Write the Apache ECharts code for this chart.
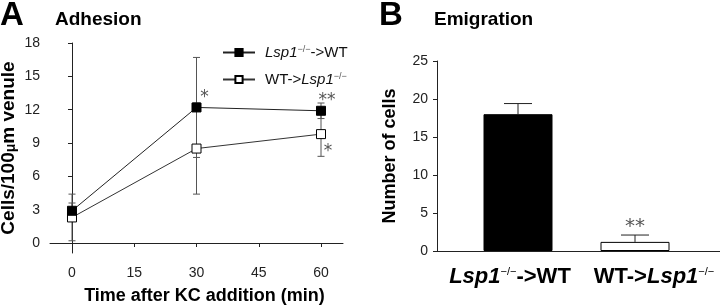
<!DOCTYPE html>
<html>
<head>
<meta charset="utf-8">
<script src="https://cdn.jsdelivr.net/npm/echarts@6/dist/echarts.min.js"></script>
<style>html,body{margin:0;padding:0;background:#fff}#c{width:720px;height:305px}</style>
</head>
<body>
<div id="c"></div>
<script>
// ---- Panel A data ----
const timePoints = [0, 30, 60];
const xTicks = [0, 15, 30, 45, 60];
const yTicksA = [0, 3, 6, 9, 12, 15, 18];
const lspToWT = [2.9, 12.2, 11.9];
const lspToWTErr = [0.7, 4.5, 0.7];
const lspToWTSig = ['', '*', '**'];
const wtToLsp = [2.3, 8.5, 9.8];
const wtToLspErr = [2.1, 4.1, 2.0];
const wtToLspSig = ['', '', '*'];
// ---- Panel B data ----
const groupsB = ['Lsp1->WT', 'WT->Lsp1'];
const emigration = [18.0, 1.2];
const emigrationErr = [1.4, 0.9];
const emigrationSig = ['', '**'];

const FONT = 'Liberation Sans, Arial, sans-serif';
const chart = echarts.init(document.getElementById('c'), null, {renderer: 'canvas'});

function errRender(color, capHalf, both) {
  return function (params, api) {
    const x = api.value(0), y = api.value(1), e = api.value(2);
    const top = api.coord([x, y + e]);
    const bot = both ? api.coord([x, y - e]) : api.coord([x, y]);
    const st = {stroke: color, lineWidth: 1};
    const ch = [
      {type: 'line', shape: {x1: top[0], y1: top[1], x2: bot[0], y2: bot[1]}, style: st},
      {type: 'line', shape: {x1: top[0] - capHalf, y1: top[1], x2: top[0] + capHalf, y2: top[1]}, style: st}
    ];
    if (both) ch.push({type: 'line', shape: {x1: bot[0] - capHalf, y1: bot[1], x2: bot[0] + capHalf, y2: bot[1]}, style: st});
    return {type: 'group', children: ch};
  };
}

function sigLabel(sig, offset) {
  return sig ? {show: true, position: 'inside', offset: offset, formatter: sig,
    fontFamily: 'DejaVu Sans', fontSize: 17, color: '#555'} : {show: false};
}

const sigOffsetsLsp = [[0, 0], [8, -10], [6, -10]];
const sigOffsetsWt = [[0, 0], [0, 0], [7, 17]];

const supStyle = {fontSize: 9, color: '#555', verticalAlign: 'top', padding: [0, 0, 6, 0], fontFamily: FONT};

const option = {
  animation: false,
  backgroundColor: '#fff',
  textStyle: {fontFamily: FONT},
  title: [
    {text: 'A', left: 0, top: -1, padding: 0, textStyle: {fontSize: 33, fontWeight: 'bold', color: '#000', fontFamily: FONT}},
    {text: 'Adhesion', left: 55, top: 10, padding: 0, textStyle: {fontSize: 19, fontWeight: 'bold', color: '#000', fontFamily: FONT}},
    {text: 'B', left: 379, top: -1, padding: 0, textStyle: {fontSize: 33, fontWeight: 'bold', color: '#000', fontFamily: FONT}},
    {text: 'Emigration', left: 434, top: 10, padding: 0, textStyle: {fontSize: 19, fontWeight: 'bold', color: '#000', fontFamily: FONT}}
  ],
  legend: {
    left: 222, top: 45, orient: 'vertical', itemWidth: 32, itemHeight: 9, itemGap: 12, padding: 0,
    data: ['Lsp1->WT', 'WT->Lsp1'],
    formatter: function (n) {
      return n === 'Lsp1->WT' ? '{it|Lsp1}{sup|−/−}{n|->WT}' : '{n|WT->}{it|Lsp1}{sup|−/−}';
    },
    textStyle: {
      fontSize: 15, color: '#111', padding: [0, 0, 0, 5],
      rich: {it: {fontStyle: 'italic', fontSize: 15, color: '#111', fontFamily: FONT},
             n: {fontSize: 15, color: '#111', fontFamily: FONT},
             sup: supStyle}
    }
  },
  grid: [
    {left: 50, top: 43, width: 293, height: 210, outerBoundsMode: 'none', containLabel: false},
    {left: 459.5, top: 61, width: 234, height: 190, outerBoundsMode: 'none', containLabel: false},
    {left: 437, top: 61, width: 283, height: 190, outerBoundsMode: 'none', containLabel: false}
  ],
  xAxis: [
    {
      gridIndex: 0, type: 'value', min: -5.3, max: 65.3,
      name: 'Time after KC addition (min)', nameLocation: 'middle', nameGap: 34,
      nameTextStyle: {fontSize: 18, fontWeight: 'bold', color: '#000', padding: [0, 0, 0, 16], fontFamily: FONT},
      axisLine: {show: true, lineStyle: {color: '#222', width: 1}},
      axisTick: {show: true, length: 4, customValues: xTicks, lineStyle: {color: '#222'}},
      axisLabel: {show: true, customValues: xTicks, fontSize: 14, color: '#222', margin: 13, fontFamily: FONT},
      splitLine: {show: false}
    },
    {
      gridIndex: 1, type: 'category', data: groupsB,
      axisLine: {show: false}, axisTick: {show: false},
      axisLabel: {
        margin: 15, interval: 0,
        formatter: function (v, i) {
          return i === 0 ? '{it|Lsp1}{sup|−/−}{b|->WT}{g0|}' : '{g1|}{b|WT->}{it|Lsp1}{sup|−/−}';
        },
        rich: {
          it: {fontStyle: 'italic', fontWeight: 'bold', fontSize: 22, color: '#000', fontFamily: FONT},
          b: {fontWeight: 'bold', fontSize: 22, color: '#000', fontFamily: FONT},
          sup: {fontSize: 11, color: '#000', verticalAlign: 'top', padding: [0, 0, 8, 0], fontFamily: FONT},
          g0: {width: 16}, g1: {width: 38}
        }
      }
    },
    {
      gridIndex: 2, type: 'value', min: 0, max: 1,
      axisLine: {show: true, lineStyle: {color: '#222', width: 1}},
      axisTick: {show: false}, axisLabel: {show: false}, splitLine: {show: false}
    }
  ],
  yAxis: [
    {
      gridIndex: 0, type: 'value', min: -0.9, max: 18,
      name: '{t|Cells/100}{mu|μ}{t|m venule}', nameLocation: 'middle', nameGap: 32,
      nameTextStyle: {fontSize: 19, fontWeight: 'bold', color: '#000', fontFamily: FONT, padding: [0, 0, 0, 0],
        rich: {t: {fontSize: 19, fontWeight: 'bold', color: '#000', fontFamily: FONT},
               mu: {fontSize: 14, color: '#000', fontFamily: FONT, verticalAlign: 'bottom'}}},
      axisLine: {show: true, lineStyle: {color: '#222', width: 1}},
      axisTick: {show: true, length: 4, customValues: yTicksA, lineStyle: {color: '#222'}},
      axisLabel: {show: true, customValues: yTicksA, fontSize: 14, color: '#222', margin: 10, fontFamily: FONT},
      splitLine: {show: false}
    },
    {
      gridIndex: 1, type: 'value', min: 0, max: 25, interval: 5, offset: 22.5,
      name: 'Number of cells', nameLocation: 'middle', nameGap: 38,
      nameTextStyle: {fontSize: 18, fontWeight: 'bold', color: '#000', fontFamily: FONT},
      axisLine: {show: true, lineStyle: {color: '#222', width: 1}},
      axisTick: {show: true, length: 4, lineStyle: {color: '#222'}},
      axisLabel: {fontSize: 14, color: '#222', margin: 9, fontFamily: FONT},
      splitLine: {show: false}
    },
    {gridIndex: 2, type: 'value', min: 0, max: 25, show: false}
  ],
  series: [
    {
      name: 'errLsp', type: 'custom', xAxisIndex: 0, yAxisIndex: 0, z: 1,
      renderItem: errRender('#555', 3.5, true), encode: {x: 0, y: 1},
      data: timePoints.map((t, i) => [t, lspToWT[i], lspToWTErr[i]])
    },
    {
      name: 'errWt', type: 'custom', xAxisIndex: 0, yAxisIndex: 0, z: 1,
      renderItem: errRender('#555', 3.5, true), encode: {x: 0, y: 1},
      data: timePoints.map((t, i) => [t, wtToLsp[i], wtToLspErr[i]])
    },
    {
      name: 'WT->Lsp1', type: 'line', xAxisIndex: 0, yAxisIndex: 0, z: 3,
      symbol: 'rect', symbolSize: 9, showSymbol: true,
      lineStyle: {color: '#333', width: 1},
      itemStyle: {color: '#fff', borderColor: '#000', borderWidth: 1},
      data: timePoints.map((t, i) => ({value: [t, wtToLsp[i]], label: sigLabel(wtToLspSig[i], sigOffsetsWt[i])}))
    },
    {
      name: 'Lsp1->WT', type: 'line', xAxisIndex: 0, yAxisIndex: 0, z: 4,
      symbol: 'rect', symbolSize: 9, showSymbol: true,
      lineStyle: {color: '#222', width: 1},
      itemStyle: {color: '#000', borderColor: '#000', borderWidth: 1},
      data: timePoints.map((t, i) => ({value: [t, lspToWT[i]], label: sigLabel(lspToWTSig[i], sigOffsetsLsp[i])}))
    },
    {
      name: 'emig', type: 'bar', xAxisIndex: 1, yAxisIndex: 1, barWidth: 69, z: 3,
      data: emigration.map((v, i) => ({
        value: v,
        itemStyle: i === 0 ? {color: '#000', borderColor: '#000', borderWidth: 1} : {color: '#fff', borderColor: '#000', borderWidth: 1},
        label: emigrationSig[i] ? {show: true, position: 'top', distance: 5, formatter: emigrationSig[i],
          fontFamily: 'DejaVu Sans', fontSize: 20, color: '#555'} : {show: false}
      }))
    },
    {
      name: 'errEmig', type: 'custom', xAxisIndex: 1, yAxisIndex: 1, z: 2,
      renderItem: function (params, api) {
        const idx = api.value(0), y = api.value(1), e = api.value(2);
        const top = api.coord([idx, y + e]), bot = api.coord([idx, y]);
        const st = {stroke: '#222', lineWidth: 1};
        return {type: 'group', children: [
          {type: 'line', shape: {x1: top[0], y1: top[1], x2: bot[0], y2: bot[1]}, style: st},
          {type: 'line', shape: {x1: top[0] - 14, y1: top[1], x2: top[0] + 14, y2: top[1]}, style: st}
        ]};
      },
      encode: {x: 0, y: 1},
      data: emigration.map((v, i) => [i, v, emigrationErr[i]])
    }
  ]
};
chart.setOption(option);
</script>
</body>
</html>
